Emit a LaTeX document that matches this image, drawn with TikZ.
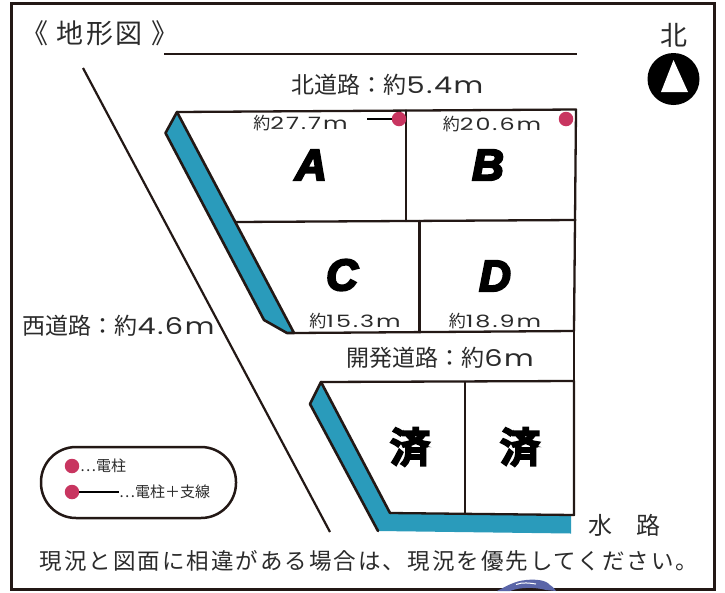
\documentclass[tikz,border=0pt]{standalone}
\usepackage{fontspec}
\setmainfont{Noto Sans CJK JP}
\newfontfamily\jp{Noto Sans CJK JP}
\newfontfamily\jpspaced[LetterSpace=9]{Noto Sans CJK JP}
\newfontfamily\jptitle[LetterSpace=9]{Noto Sans CJK JP}
\newfontfamily\jpheavy[FakeBold=4]{Noto Sans CJK JP Bold}
\newfontfamily\widelat[FakeStretch=1.25,LetterSpace=7]{Poppins}
\newfontfamily\widedim[FakeStretch=1.4,LetterSpace=12]{Poppins}
\newfontfamily\heavyital[FakeBold=5]{Liberation Sans Bold Italic}
\newcommand{\wl}[1]{{\widelat #1}}
\newcommand{\dimlat}[1]{{\widedim #1}}
\definecolor{ink}{HTML}{231815}
\definecolor{txt}{HTML}{2B2B2B}
\definecolor{water}{HTML}{2A9BBB}
\definecolor{pole}{HTML}{C83560}
\definecolor{logo}{HTML}{5A65A8}
\tikzset{
  lot/.style={draw=ink,line width=2.3pt,line cap=round,line join=round},
  waterway/.style={fill=water,draw=none},
  bank/.style={draw=ink,line width=2.6pt,line join=round,line cap=round},
  polemark/.style={circle,fill=pole,draw=none,minimum size=14.5pt,inner sep=0pt},
  guy/.style={draw=black,line width=2.4pt},
  lbl/.style={text=txt,inner sep=0pt,font=\fontsize{23}{25}\selectfont},
  dim/.style={text=txt,inner sep=0pt,font=\fontsize{17}{19}\selectfont},
  legendtxt/.style={text=txt,inner sep=0pt,anchor=west,font=\fontsize{15}{17}\selectfont},
  lotname/.style={text=black,inner sep=0pt,font=\fontsize{44}{46}\heavyital},
  done/.style={text=black,inner sep=0pt,font=\fontsize{41}{44}\jpheavy},
}
\begin{document}
\begin{tikzpicture}[x=1pt,y=-1pt]
\useasboundingbox (0,0) rectangle (725,592);
\fill[white] (0,0) rectangle (725,592);
% frame
\draw[draw=ink,line width=3pt] (11.5,3.5) rectangle (714,589);
% logo fragment
\fill[logo] (497,591) .. controls (505,587) and (514,581) .. (526,580) .. controls (536,579) and (546,580) .. (550,585) .. controls (553,587) and (555,589) .. (556,591) -- (546,590) .. controls (535,587) and (520,587) .. (510,591) -- cycle;
\draw[white,line width=1pt] (516,584.5) .. controls (522,582) and (530,583) .. (536,584);
% title
\node[lbl,anchor=west,font=\fontsize{27}{29}\jptitle] (title) at (21,33) {《 地形図 》};
\coordinate (ulA) at (164,54);
\coordinate (ulB) at (577,54);
\draw[draw=ink,line width=2.3pt] (ulA) -- (ulB);
% west road
\coordinate (wA) at (83,68);
\coordinate (wB) at (330,532);
\draw[draw=ink,line width=2.2pt] (wA) -- (wB);
% upper water
\coordinate (p1) at (177,112);
\coordinate (p2) at (165.5,133);
\coordinate (p3) at (264,320);
\coordinate (p4) at (287,333);
\coordinate (p5) at (294,333);
\fill[waterway] (p1) -- (p2) -- (p3) -- (p4) -- (p5) -- cycle;
\draw[bank] (p1) -- (p2) -- (p3) -- (p4) -- (p5) -- cycle;
% upper lots
\coordinate (tr) at (576,109.5);
\coordinate (br) at (574,331);
\coordinate (m1) at (406,110.5);
\coordinate (m2) at (406,221);
\coordinate (mr) at (575.5,220);
\coordinate (ml) at (236,222);
\coordinate (n1) at (419.5,221);
\coordinate (n2) at (419.5,332);
\draw[lot] (p1) -- (tr) -- (br) -- (p5);
\draw[lot] (m1) -- (m2);
\draw[lot] (ml) -- (mr);
\draw[lot] (n1) -- (n2);
% lower water
\coordinate (q1) at (321,382);
\coordinate (q2) at (310,404);
\coordinate (q3) at (378,531);
\coordinate (q4) at (571,533.5);
\coordinate (q5) at (571,515);
\coordinate (q6) at (390,513);
\fill[waterway] (q1) -- (q2) -- (q3) -- (q4) -- (q5) -- (q6) -- cycle;
\draw[bank] (q6) -- (q1) -- (q2) -- (q3);
% lower lots
\coordinate (s1) at (574,381);
\coordinate (s2) at (574,515);
\coordinate (d1) at (465,382);
\coordinate (d2) at (465,514);
\draw[lot] (q1) -- (s1) -- (s2) -- (q6);
\draw[lot] (br) -- (s1);
\draw[lot] (d1) -- (d2);
% poles
\node[polemark] (pa) at (399,119) {};
\node[polemark] (pb) at (566,119) {};
\coordinate (ga) at (367,119);
\draw[guy] (ga) -- (pa);
% labels
\node[lbl] (north road) at (387.5,85) {北道路：約\wl{5.4m}};
\node[lbl] (west road) at (118.5,326) {西道路：約\wl{4.6m}};
\node[lbl] (dev road) at (440,358) {開発道路：約\wl{6m}};
\node[dim] (la) at (300.5,123) {約\dimlat{27.7m}};
\node[dim] (lb) at (492,124) {約\dimlat{20.6m}};
\node[dim] (lc) at (355,321) {約\dimlat{15.3m}};
\node[dim] (ld) at (495,321) {約\dimlat{18.9m}};
\node[lotname] (A) at (311,165) {A};
\node[lotname] (B) at (488,165) {B};
\node[lotname] (C) at (342,275) {C};
\node[lotname] (D) at (495,276) {D};
\node[done] (s1t) at (410,447) {済};
\node[done] (s2t) at (520,447) {済};
\node[lbl,anchor=west,font=\fontsize{24}{26}\selectfont] (water label) at (588,525) {水　路};
\node[text=txt,inner sep=0pt,font=\fontsize{22.5}{24}\jpspaced] (note) at (369,561) {現況と図面に相違がある場合は、現況を優先してください。};
% north
\node[lbl,font=\fontsize{27}{29}\selectfont] (kita) at (674,35) {北};
\node[circle,fill=black,minimum size=52pt,inner sep=0pt] (compass) at (673.5,79) {};
\fill[white] (673.5,60) -- (688,92) -- (661,92) -- cycle;
% legend
\node[draw=ink,line width=2.5pt,rounded corners=35pt,minimum width=195pt,minimum height=71pt,inner sep=0pt] (legend) at (138.5,482.5) {};
\node[polemark] (k1) at (72,466) {};
\node[polemark] (k2) at (72,492) {};
\coordinate (k3) at (119,492);
\draw[guy] (k2) -- (k3);
\node[legendtxt] (t1) at (80,466) {⋯電柱};
\node[legendtxt] (t2) at (119,492) {⋯電柱＋支線};
\end{tikzpicture}
\end{document}
